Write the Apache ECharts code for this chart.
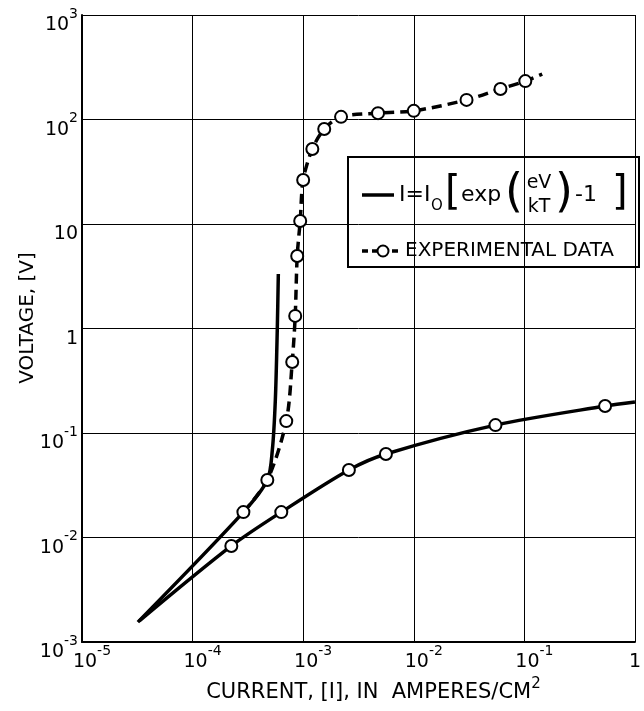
<!DOCTYPE html>
<html>
<head>
<meta charset="utf-8">
<script src="https://cdn.jsdelivr.net/npm/echarts@6/dist/echarts.min.js"></script>
<style>
  html, body { margin: 0; padding: 0; background: #fff; }
  #chart { width: 644px; height: 711px; }
</style>
</head>
<body>
<div id="chart"></div>
<script>
// tick exponents (labels are 10^e)
const xTickExps = [-5, -4, -3, -2, -1, 0];
const yTickExps = [-3, -2, -1, 0, 1, 2, 3];

// theoretical diode curve I = I0[exp(eV/kT) - 1]
const theoryI = [3.2e-5, 2.88e-4, 4.74e-4, 5.26e-4, 5.6e-4, 5.83e-4, 5.96e-4];
const theoryV = [1.55e-3, 0.0175, 0.0355, 0.0687, 0.207, 0.968, 3.32];

// experimental data, upper branch (dashed, last point is only the line end)
const expI = [2.88e-4, 4.74e-4, 7.03e-4, 7.96e-4, 8.47e-4, 8.83e-4, 9.4e-4, 1.0e-3, 1.21e-3, 1.55e-3, 2.2e-3, 4.75e-3, 1.0e-2, 3.0e-2, 6.08e-2, 0.102, 0.145];
const expV = [0.0175, 0.0355, 0.130, 0.478, 1.32, 4.94, 10.7, 26.4, 52.2, 81.1, 106, 115, 121, 154, 196, 233, 272];

// lower branch (solid, first and last points are line ends only)
const lowI = [3.3e-5, 2.24e-4, 6.34e-4, 2.59e-3, 5.6e-3, 0.0548, 0.537, 1.0];
const lowV = [1.59e-3, 8.3e-3, 0.0175, 0.0443, 0.063, 0.119, 0.181, 0.198];

const FONT = 'DejaVu Sans';

function pairs(xs, ys, noMark) {
  return xs.map((x, i) => {
    const item = { value: [x, ys[i]] };
    if (noMark.indexOf(i) >= 0) item.symbol = 'none';
    return item;
  });
}

const supRich = {
  sp: { width: 20 },
  b: { fontSize: 19, fontFamily: FONT, color: '#000', lineHeight: 28, verticalAlign: 'bottom' },
  s: { fontSize: 14, fontFamily: FONT, color: '#000', lineHeight: 28, verticalAlign: 'top' }
};

const chart = echarts.init(document.getElementById('chart'), null, { renderer: 'canvas' });

const circleStyle = { color: '#fff', borderColor: '#000', borderWidth: 2 };

function txt(x, y, text, size, extra) {
  return {
    type: 'text', x: x, y: y,
    style: Object.assign({ text: text, font: size + 'px "DejaVu Sans"', fill: '#000', verticalAlign: 'middle' }, extra || {})
  };
}

chart.setOption({
  animation: false,
  backgroundColor: '#fff',
  grid: { left: 82, right: 7, top: 15, bottom: 69 },
  xAxis: {
    type: 'log',
    logBase: 10,
    min: Math.pow(10, xTickExps[0]),
    max: Math.pow(10, xTickExps[xTickExps.length - 1]),
    name: '{a|CURRENT, [I], IN  AMPERES/CM}{s|2}',
    nameLocation: 'middle',
    nameGap: 34,
    nameTextStyle: {
      padding: [0, 0, 0, 30],
      rich: {
        a: { fontSize: 21, fontFamily: FONT, color: '#000', lineHeight: 26, verticalAlign: 'bottom' },
        s: { fontSize: 15, fontFamily: FONT, color: '#000', lineHeight: 26, verticalAlign: 'top' }
      }
    },
    axisLine: { lineStyle: { color: '#000', width: 2 } },
    axisTick: { show: false },
    splitLine: { show: true, lineStyle: { color: '#000', width: 1 } },
    axisLabel: {
      margin: 2,
      showMinLabel: true,
      showMaxLabel: true,
      formatter: function (v) {
        const e = Math.round(Math.log10(v));
        if (e === 0) return '{b|1}';
        return '{sp|}{b|10}{s|' + e + '}';
      },
      rich: supRich
    }
  },
  yAxis: {
    type: 'log',
    logBase: 10,
    min: Math.pow(10, yTickExps[0]),
    max: Math.pow(10, yTickExps[yTickExps.length - 1]),
    axisLine: { lineStyle: { color: '#000', width: 2 } },
    axisTick: { show: false },
    splitLine: { show: true, lineStyle: { color: '#000', width: 1 } },
    axisLabel: {
      margin: 4,
      padding: [12, 0, 0, 0],
      showMinLabel: true,
      showMaxLabel: true,
      formatter: function (v) {
        const e = Math.round(Math.log10(v));
        if (e === 0) return '{b|1}';
        if (e === 1) return '{b|10}';
        return '{b|10}{s|' + e + '}';
      },
      rich: supRich
    }
  },
  series: [
    {
      name: 'theory',
      type: 'line',
      data: pairs(theoryI, theoryV, []),
      showSymbol: false,
      smooth: 0.3,
      lineStyle: { color: '#000', width: 3.5 },
      z: 2
    },
    {
      name: 'experimental',
      type: 'line',
      data: pairs(expI, expV, [expI.length - 1]),
      symbol: 'circle',
      symbolSize: 12,
      smooth: 0.3,
      lineStyle: { color: '#000', width: 3.5, type: [10, 6] },
      itemStyle: circleStyle,
      z: 3
    },
    {
      name: 'lower',
      type: 'line',
      data: pairs(lowI, lowV, [0, lowI.length - 1]),
      symbol: 'circle',
      symbolSize: 12,
      smooth: 0.3,
      lineStyle: { color: '#000', width: 3.5 },
      itemStyle: circleStyle,
      z: 3
    }
  ],
  graphic: [
    // y axis title
    {
      type: 'text', x: 28, y: 318, rotation: Math.PI / 2,
      style: { text: 'VOLTAGE, [V]', font: '20px "DejaVu Sans"', fill: '#000', align: 'center', verticalAlign: 'middle' }
    },
    {
      type: 'group',
      z: 100,
      children: [
        { type: 'rect', shape: { x: 348, y: 157, width: 291, height: 110 }, style: { fill: '#fff', stroke: '#000', lineWidth: 2 } },
        { type: 'line', shape: { x1: 362, y1: 195, x2: 394, y2: 195 }, style: { stroke: '#000', lineWidth: 3.5 } },
        txt(399, 195, 'I=I', 22),
        txt(431, 206, 'O', 15),
        txt(445, 194, '[', 40),
        txt(461, 195, 'exp', 22),
        txt(505, 194, '(', 46),
        txt(539, 183, 'eV', 19, { align: 'center' }),
        txt(539, 207, 'kT', 19, { align: 'center' }),
        txt(555, 194, ')', 46),
        txt(575, 195, '-1', 22),
        txt(612, 194, ']', 40),
        { type: 'line', shape: { x1: 362, y1: 251, x2: 400, y2: 251 }, style: { stroke: '#000', lineWidth: 3.5, lineDash: [6, 4] } },
        { type: 'circle', shape: { cx: 383, cy: 251, r: 5.5 }, style: { fill: '#fff', stroke: '#000', lineWidth: 2 } },
        txt(405, 251, 'EXPERIMENTAL DATA', 20)
      ]
    }
  ]
});
</script>
</body>
</html>
